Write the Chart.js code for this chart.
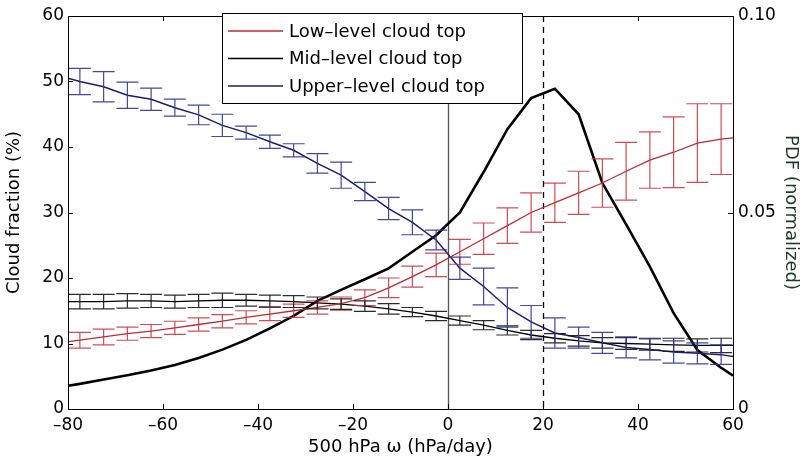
<!DOCTYPE html>
<html>
<head>
<meta charset="utf-8">
<script src="https://cdn.jsdelivr.net/npm/chart.js@4.4.1/dist/chart.umd.min.js"></script>
<style>
body { margin: 0; background: #fff; }
</style>
</head>
<body>
<canvas id="mycanvas" width="804" height="462"></canvas>
<script>
// bin centres of 500 hPa omega (hPa/day)
var binCenters = [-77.5, -72.5, -67.5, -62.5, -57.5, -52.5, -47.5, -42.5, -37.5, -32.5,
	-27.5, -22.5, -17.5, -12.5, -7.5, -2.5, 2.5, 7.5, 12.5, 17.5,
	22.5, 27.5, 32.5, 37.5, 42.5, 47.5, 52.5, 57.5];
var xEdges = [-80, 60];

// cloud fraction (%) and error half-widths
var lowMean = [10.5, 11.0, 11.5, 11.9, 12.4, 12.9, 13.4, 14.0, 14.5, 15.0,
	15.5, 16.1, 17.0, 18.5, 20.2, 22.0, 24.0, 26.0, 28.0, 30.0,
	31.5, 33.0, 34.5, 36.3, 38.0, 39.2, 40.6, 41.2];
var lowErr = [1.2, 1.2, 1.0, 1.0, 1.0, 1.0, 1.0, 1.0, 1.0, 1.0,
	1.0, 1.0, 1.2, 1.5, 1.6, 1.8, 1.9, 2.4, 2.7, 3.0,
	3.0, 3.3, 3.7, 4.4, 4.3, 5.4, 6.0, 5.4];
var lowEdge = [10.3, 41.4];

var midMean = [16.4, 16.4, 16.5, 16.5, 16.4, 16.5, 16.6, 16.6, 16.5, 16.4,
	16.2, 16.0, 15.7, 15.3, 14.8, 14.2, 13.5, 12.8, 12.0, 11.3,
	10.8, 10.4, 10.1, 10.0, 9.9, 9.8, 9.7, 9.7];
var midErr = [1.1, 1.1, 1.1, 1.0, 1.0, 1.0, 1.1, 0.9, 0.9, 0.9,
	0.9, 0.8, 0.8, 0.8, 0.7, 0.7, 0.7, 0.7, 0.7, 0.7,
	0.7, 0.8, 0.8, 0.9, 0.9, 1.0, 1.0, 1.1];
var midEdge = [16.4, 9.7];

var upperMean = [50.0, 49.2, 47.9, 47.3, 46.0, 44.9, 43.3, 42.2, 40.8, 39.5,
	37.5, 35.7, 33.2, 30.6, 28.5, 25.8, 21.5, 18.7, 15.5, 13.3,
	11.6, 10.9, 10.1, 9.4, 9.1, 8.7, 8.5, 8.3];
var upperErr = [2.0, 2.3, 2.0, 1.7, 1.3, 1.5, 1.7, 1.0, 1.0, 1.0,
	1.5, 2.0, 1.4, 1.7, 1.9, 1.5, 1.7, 2.8, 3.0, 2.5,
	2.3, 1.6, 1.6, 1.6, 1.6, 1.7, 1.6, 1.5];
var upperEdge = [50.5, 8.0];

// normalized PDF of omega (right axis)
var pdfVals = [0.0064, 0.0075, 0.0086, 0.0098, 0.0112, 0.0130, 0.0151, 0.0176, 0.0205, 0.0237,
	0.0275, 0.0303, 0.0330, 0.0358, 0.0400, 0.0442, 0.0500, 0.0603, 0.0712, 0.0791,
	0.0815, 0.0750, 0.0575, 0.0470, 0.0362, 0.0244, 0.0150, 0.0105];
var pdfEdge = [0.0059, 0.0085];

var refLines = [0, 20];

var seriesLabels = ['Low\u2013level cloud top', 'Mid\u2013level cloud top', 'Upper\u2013level cloud top'];

function lineData(edges, vals) {
	var pts = [{x: xEdges[0], y: edges[0]}];
	for (var i = 0; i < binCenters.length; i++) {
		pts.push({x: binCenters[i], y: vals[i]});
	}
	pts.push({x: xEdges[1], y: edges[1]});
	return pts;
}

var FONT = 'DejaVu Sans';

var refLinePlugin = {
	id: 'refLines',
	beforeDatasetsDraw: function(chart) {
		var ctx = chart.ctx, a = chart.chartArea, xs = chart.scales.x;
		ctx.save();
		for (var i = 0; i < refLines.length; i++) {
			var px = Math.round(xs.getPixelForValue(refLines[i])) + 0.5;
			ctx.beginPath();
			ctx.lineWidth = 1.3;
			if (i == 0) {
				ctx.strokeStyle = '#555';
				ctx.setLineDash([]);
			} else {
				ctx.strokeStyle = '#000';
				ctx.setLineDash([6, 5]);
			}
			ctx.moveTo(px, a.top);
			ctx.lineTo(px, a.bottom);
			ctx.stroke();
		}
		ctx.restore();
	}
};

var errorBarPlugin = {
	id: 'errorBars',
	afterDatasetsDraw: function(chart) {
		var ctx = chart.ctx, a = chart.chartArea;
		var xs = chart.scales.x, ys = chart.scales.y;
		ctx.save();
		ctx.beginPath();
		ctx.rect(a.left, a.top, a.right - a.left, a.bottom - a.top);
		ctx.clip();
		chart.data.datasets.forEach(function(ds) {
			if (!ds.errors) return;
			ctx.strokeStyle = ds.barColor;
			ctx.lineWidth = 1.2;
			for (var i = 0; i < binCenters.length; i++) {
				var px = xs.getPixelForValue(binCenters[i]);
				var yTop = ys.getPixelForValue(ds.means[i] + ds.errors[i]);
				var yBot = ys.getPixelForValue(ds.means[i] - ds.errors[i]);
				var cap = 11;
				ctx.beginPath();
				ctx.moveTo(px, yTop); ctx.lineTo(px, yBot);
				ctx.moveTo(px - cap, yTop); ctx.lineTo(px + cap, yTop);
				ctx.moveTo(px - cap, yBot); ctx.lineTo(px + cap, yBot);
				ctx.stroke();
			}
		});
		ctx.restore();
	}
};

var framePlugin = {
	id: 'frame',
	afterDraw: function(chart) {
		var ctx = chart.ctx, a = chart.chartArea;
		var xs = chart.scales.x, ys = chart.scales.y, y2 = chart.scales.y2;
		ctx.save();
		ctx.strokeStyle = '#000';
		ctx.lineWidth = 1;
		ctx.strokeRect(Math.round(a.left) + 0.5, Math.round(a.top) + 0.5,
			Math.round(a.right - a.left), Math.round(a.bottom - a.top));
		var t = 5;
		ctx.beginPath();
		xs.ticks.forEach(function(tk) {
			var px = Math.round(xs.getPixelForValue(tk.value)) + 0.5;
			ctx.moveTo(px, a.bottom); ctx.lineTo(px, a.bottom - t);
			ctx.moveTo(px, a.top); ctx.lineTo(px, a.top + t);
		});
		ys.ticks.forEach(function(tk) {
			var py = Math.round(ys.getPixelForValue(tk.value)) + 0.5;
			ctx.moveTo(a.left, py); ctx.lineTo(a.left + t, py);
		});
		y2.ticks.forEach(function(tk) {
			var py = Math.round(y2.getPixelForValue(tk.value)) + 0.5;
			ctx.moveTo(a.right, py); ctx.lineTo(a.right - t, py);
		});
		ctx.stroke();

		// legend box
		var bx = 222.5, by = 13.5, bw = 300, bh = 90;
		ctx.fillStyle = '#fff';
		ctx.fillRect(bx, by, bw, bh);
		ctx.strokeRect(bx, by, bw, bh);
		ctx.font = '18px "' + FONT + '"';
		ctx.textBaseline = 'middle';
		for (var i = 0; i < 3; i++) {
			var ds = chart.data.datasets[i];
			var ry = 31 + i * 27.5;
			ctx.beginPath();
			ctx.strokeStyle = ds.borderColor;
			ctx.lineWidth = 1.3;
			ctx.moveTo(228, ry); ctx.lineTo(283, ry);
			ctx.stroke();
			ctx.fillStyle = '#000';
			ctx.fillText(ds.label, 289, ry + 1);
		}
		ctx.restore();
	}
};

var ctx = document.getElementById('mycanvas');

var chart = new Chart(ctx, {
	type: 'line',
	data: {
		datasets: [
			{
				label: seriesLabels[0],
				data: lineData(lowEdge, lowMean),
				means: lowMean,
				errors: lowErr,
				borderColor: '#c02a33',
				barColor: 'rgba(200, 45, 55, 0.85)',
				borderWidth: 1.3,
				pointRadius: 0,
				yAxisID: 'y'
			},
			{
				label: seriesLabels[1],
				data: lineData(midEdge, midMean),
				means: midMean,
				errors: midErr,
				borderColor: '#000',
				barColor: 'rgba(20, 20, 20, 0.9)',
				borderWidth: 1.3,
				pointRadius: 0,
				yAxisID: 'y'
			},
			{
				label: seriesLabels[2],
				data: lineData(upperEdge, upperMean),
				means: upperMean,
				errors: upperErr,
				borderColor: '#1c1c70',
				barColor: 'rgba(50, 50, 150, 0.9)',
				borderWidth: 1.5,
				pointRadius: 0,
				yAxisID: 'y'
			},
			{
				label: 'PDF',
				data: lineData(pdfEdge, pdfVals),
				borderColor: '#000',
				borderWidth: 2.6,
				pointRadius: 0,
				yAxisID: 'y2'
			}
		]
	},
	options: {
		responsive: false,
		animation: false,
		layout: { padding: { top: 16, left: 0, right: 0, bottom: 0 } },
		plugins: {
			legend: { display: false },
			tooltip: { enabled: false }
		},
		scales: {
			x: {
				type: 'linear',
				min: -80,
				max: 60,
				grid: { display: false, drawTicks: false },
				border: { display: false },
				ticks: {
					stepSize: 20,
					padding: 6,
					color: '#000',
					font: { family: FONT, size: 17 },
					callback: function(v) { return String(v).replace('-', '\u2013'); }
				},
				title: {
					display: true,
					text: '500 hPa \u03c9 (hPa/day)',
					color: '#000',
					font: { family: FONT, size: 18 },
					padding: { top: 0, bottom: 4 }
				},
				afterFit: function(s) { s.height = 53; }
			},
			y: {
				position: 'left',
				min: 0,
				max: 60,
				grid: { display: false, drawTicks: false },
				border: { display: false },
				ticks: {
					stepSize: 10,
					padding: 4,
					color: '#000',
					font: { family: FONT, size: 17 }
				},
				title: {
					display: true,
					text: 'Cloud fraction (%)',
					color: '#000',
					font: { family: FONT, size: 18 },
					padding: { top: 4, bottom: 0 }
				},
				afterFit: function(s) { s.width = 68; }
			},
			y2: {
				position: 'right',
				min: 0,
				max: 0.1,
				grid: { display: false, drawTicks: false },
				border: { display: false },
				ticks: {
					stepSize: 0.05,
					padding: 5,
					color: '#000',
					font: { family: FONT, size: 17 }
				},
				title: {
					display: true,
					text: 'PDF (normalized)',
					color: '#1e3a28',
					font: { family: FONT, size: 18 },
					padding: { top: 3, bottom: 0 }
				},
				afterFit: function(s) { s.width = 71; }
			}
		}
	},
	plugins: [refLinePlugin, errorBarPlugin, framePlugin]
});
</script>
</body>
</html>
